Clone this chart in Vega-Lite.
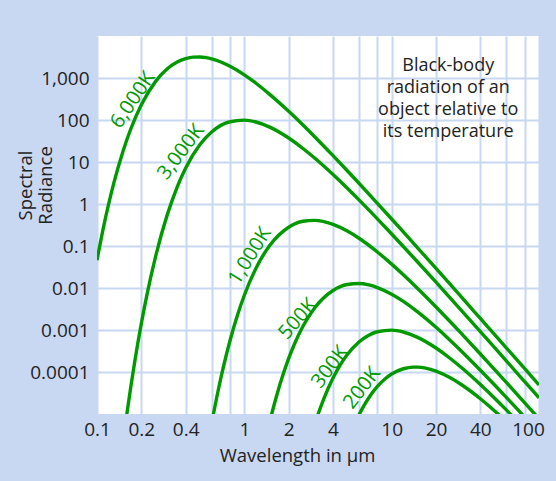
{
  "$schema": "https://vega.github.io/schema/vega-lite/v6.json",
  "autosize": {"type": "none"},
  "width": 442,
  "height": 378,
  "padding": {"left": 97, "top": 36, "right": 17, "bottom": 67},
  "background": "#c9d8f2",
  "config": {
    "view": {"fill": "white", "stroke": null},
    "font": "Open Sans",
    "axis": {
      "grid": true,
      "gridColor": "#c9d8f2",
      "gridWidth": 2,
      "gridOpacity": 1,
      "domain": false,
      "ticks": false,
      "labelFont": "Open Sans",
      "labelFontSize": 19,
      "labelColor": "#222222",
      "titleFont": "Open Sans",
      "titleFontSize": 18.5,
      "titleFontWeight": "normal",
      "titleColor": "#222222",
      "labelOverlap": false,
      "labelFlush": false
    }
  },
  "datasets": {
    "curves": [
      {"T": "6000K", "wl": 0.1, "r": 0.0459},
      {"T": "6000K", "wl": 0.11, "r": 0.252},
      {"T": "6000K", "wl": 0.12, "r": 1.002},
      {"T": "6000K", "wl": 0.13, "r": 3.13},
      {"T": "6000K", "wl": 0.15, "r": 17.87},
      {"T": "6000K", "wl": 0.17, "r": 62.75},
      {"T": "6000K", "wl": 0.2, "r": 231.2},
      {"T": "6000K", "wl": 0.25, "r": 831.8},
      {"T": "6000K", "wl": 0.3, "r": 1656},
      {"T": "6000K", "wl": 0.35, "r": 2401},
      {"T": "6000K", "wl": 0.4, "r": 2904},
      {"T": "6000K", "wl": 0.45, "r": 3146},
      {"T": "6000K", "wl": 0.5, "r": 3174},
      {"T": "6000K", "wl": 0.55, "r": 3062},
      {"T": "6000K", "wl": 0.6, "r": 2866},
      {"T": "6000K", "wl": 0.8, "r": 1909},
      {"T": "6000K", "wl": 1, "r": 1191},
      {"T": "6000K", "wl": 1.2, "r": 750.6},
      {"T": "6000K", "wl": 1.5, "r": 397.3},
      {"T": "6000K", "wl": 2, "r": 160.7},
      {"T": "6000K", "wl": 2.5, "r": 75.83},
      {"T": "6000K", "wl": 3, "r": 40.06},
      {"T": "6000K", "wl": 4, "r": 14.16},
      {"T": "6000K", "wl": 5, "r": 6.191},
      {"T": "6000K", "wl": 6, "r": 3.114},
      {"T": "6000K", "wl": 8, "r": 1.04},
      {"T": "6000K", "wl": 10, "r": 0.4395},
      {"T": "6000K", "wl": 12, "r": 0.2163},
      {"T": "6000K", "wl": 15, "r": 0.0904},
      {"T": "6000K", "wl": 20, "r": 0.02922},
      {"T": "6000K", "wl": 25, "r": 0.01212},
      {"T": "6000K", "wl": 30, "r": 0.005893},
      {"T": "6000K", "wl": 40, "r": 0.001881},
      {"T": "6000K", "wl": 50, "r": 0.0007758},
      {"T": "6000K", "wl": 60, "r": 0.0003752},
      {"T": "6000K", "wl": 80, "r": 0.0001196},
      {"T": "6000K", "wl": 100, "r": 0.00004907},

      {"T": "3000K", "wl": 0.15, "r": 0.00000204},
      {"T": "3000K", "wl": 0.16, "r": 0.00001089},
      {"T": "3000K", "wl": 0.18, "r": 0.000169},
      {"T": "3000K", "wl": 0.2, "r": 0.001436},
      {"T": "3000K", "wl": 0.22, "r": 0.00787},
      {"T": "3000K", "wl": 0.25, "r": 0.05689},
      {"T": "3000K", "wl": 0.3, "r": 0.5585},
      {"T": "3000K", "wl": 0.35, "r": 2.537},
      {"T": "3000K", "wl": 0.4, "r": 7.211},
      {"T": "3000K", "wl": 0.5, "r": 26.0},
      {"T": "3000K", "wl": 0.6, "r": 51.76},
      {"T": "3000K", "wl": 0.8, "r": 90.78},
      {"T": "3000K", "wl": 1, "r": 99.22},
      {"T": "3000K", "wl": 1.2, "r": 89.6},
      {"T": "3000K", "wl": 1.5, "r": 66.83},
      {"T": "3000K", "wl": 2, "r": 37.24},
      {"T": "3000K", "wl": 2.5, "r": 21.0},
      {"T": "3000K", "wl": 3, "r": 12.42},
      {"T": "3000K", "wl": 4, "r": 5.017},
      {"T": "3000K", "wl": 5, "r": 2.367},
      {"T": "3000K", "wl": 6, "r": 1.251},
      {"T": "3000K", "wl": 8, "r": 0.4424},
      {"T": "3000K", "wl": 10, "r": 0.1935},
      {"T": "3000K", "wl": 12, "r": 0.09739},
      {"T": "3000K", "wl": 15, "r": 0.04163},
      {"T": "3000K", "wl": 20, "r": 0.01374},
      {"T": "3000K", "wl": 25, "r": 0.005772},
      {"T": "3000K", "wl": 30, "r": 0.002828},
      {"T": "3000K", "wl": 40, "r": 0.0009127},
      {"T": "3000K", "wl": 50, "r": 0.0003784},
      {"T": "3000K", "wl": 60, "r": 0.000184},
      {"T": "3000K", "wl": 80, "r": 0.00005881},
      {"T": "3000K", "wl": 100, "r": 0.00002425},

      {"T": "1000K", "wl": 0.6, "r": 0.0000059},
      {"T": "1000K", "wl": 0.62, "r": 0.00001086},
      {"T": "1000K", "wl": 0.65, "r": 0.00002503},
      {"T": "1000K", "wl": 0.7, "r": 0.0000839},
      {"T": "1000K", "wl": 0.75, "r": 0.0002337},
      {"T": "1000K", "wl": 0.8, "r": 0.0005617},
      {"T": "1000K", "wl": 0.9, "r": 0.0023},
      {"T": "1000K", "wl": 1, "r": 0.006719},
      {"T": "1000K", "wl": 1.2, "r": 0.02972},
      {"T": "1000K", "wl": 1.5, "r": 0.1071},
      {"T": "1000K", "wl": 2, "r": 0.2797},
      {"T": "1000K", "wl": 2.5, "r": 0.3877},
      {"T": "1000K", "wl": 3, "r": 0.4085},
      {"T": "1000K", "wl": 4, "r": 0.3276},
      {"T": "1000K", "wl": 5, "r": 0.2272},
      {"T": "1000K", "wl": 6, "r": 0.1531},
      {"T": "1000K", "wl": 8, "r": 0.07209},
      {"T": "1000K", "wl": 10, "r": 0.03703},
      {"T": "1000K", "wl": 12, "r": 0.02065},
      {"T": "1000K", "wl": 15, "r": 0.009743},
      {"T": "1000K", "wl": 20, "r": 0.003535},
      {"T": "1000K", "wl": 25, "r": 0.001568},
      {"T": "1000K", "wl": 30, "r": 0.0007965},
      {"T": "1000K", "wl": 40, "r": 0.0002685},
      {"T": "1000K", "wl": 50, "r": 0.0001143},
      {"T": "1000K", "wl": 60, "r": 0.00005647},
      {"T": "1000K", "wl": 80, "r": 0.00001844},
      {"T": "1000K", "wl": 100, "r": 0.0000077},

      {"T": "500K", "wl": 1.4, "r": 0.00000262},
      {"T": "500K", "wl": 1.5, "r": 0.00000731},
      {"T": "500K", "wl": 1.6, "r": 0.00001755},
      {"T": "500K", "wl": 1.7, "r": 0.00003736},
      {"T": "500K", "wl": 1.8, "r": 0.0000718},
      {"T": "500K", "wl": 2, "r": 0.00021},
      {"T": "500K", "wl": 2.2, "r": 0.0004824},
      {"T": "500K", "wl": 2.5, "r": 0.001224},
      {"T": "500K", "wl": 3, "r": 0.003346},
      {"T": "500K", "wl": 4, "r": 0.008737},
      {"T": "500K", "wl": 5, "r": 0.0121},
      {"T": "500K", "wl": 6, "r": 0.01275},
      {"T": "500K", "wl": 7, "r": 0.01181},
      {"T": "500K", "wl": 8, "r": 0.01024},
      {"T": "500K", "wl": 10, "r": 0.0071},
      {"T": "500K", "wl": 12, "r": 0.004785},
      {"T": "500K", "wl": 15, "r": 0.002699},
      {"T": "500K", "wl": 20, "r": 0.001158},
      {"T": "500K", "wl": 25, "r": 0.0005645},
      {"T": "500K", "wl": 30, "r": 0.0003046},
      {"T": "500K", "wl": 40, "r": 0.0001104},
      {"T": "500K", "wl": 50, "r": 0.00004897},
      {"T": "500K", "wl": 60, "r": 0.00002488},
      {"T": "500K", "wl": 70, "r": 0.00001393},
      {"T": "500K", "wl": 80, "r": 0.00000839},

      {"T": "300K", "wl": 3, "r": 0.00000558},
      {"T": "300K", "wl": 3.2, "r": 0.00001099},
      {"T": "300K", "wl": 3.5, "r": 0.00002535},
      {"T": "300K", "wl": 4, "r": 0.00007218},
      {"T": "300K", "wl": 4.5, "r": 0.0001518},
      {"T": "300K", "wl": 5, "r": 0.0002601},
      {"T": "300K", "wl": 6, "r": 0.0005176},
      {"T": "300K", "wl": 7, "r": 0.0007505},
      {"T": "300K", "wl": 8, "r": 0.0009077},
      {"T": "300K", "wl": 10, "r": 0.0009922},
      {"T": "300K", "wl": 12, "r": 0.0008959},
      {"T": "300K", "wl": 15, "r": 0.0006683},
      {"T": "300K", "wl": 20, "r": 0.0003724},
      {"T": "300K", "wl": 25, "r": 0.00021},
      {"T": "300K", "wl": 30, "r": 0.0001242},
      {"T": "300K", "wl": 40, "r": 0.00005017},
      {"T": "300K", "wl": 50, "r": 0.00002367},
      {"T": "300K", "wl": 60, "r": 0.00001251},
      {"T": "300K", "wl": 70, "r": 0.0000072},

      {"T": "200K", "wl": 5.5, "r": 0.00000493},
      {"T": "200K", "wl": 6, "r": 0.00000951},
      {"T": "200K", "wl": 6.5, "r": 0.00001602},
      {"T": "200K", "wl": 7, "r": 0.00002437},
      {"T": "200K", "wl": 8, "r": 0.00004519},
      {"T": "200K", "wl": 9, "r": 0.00006823},
      {"T": "200K", "wl": 10, "r": 0.00008951},
      {"T": "200K", "wl": 12, "r": 0.0001195},
      {"T": "200K", "wl": 14, "r": 0.0001307},
      {"T": "200K", "wl": 15, "r": 0.0001306},
      {"T": "200K", "wl": 17, "r": 0.0001237},
      {"T": "200K", "wl": 20, "r": 0.0001049},
      {"T": "200K", "wl": 25, "r": 0.00007275},
      {"T": "200K", "wl": 30, "r": 0.00004904},
      {"T": "200K", "wl": 40, "r": 0.00002306},
      {"T": "200K", "wl": 50, "r": 0.00001185},
      {"T": "200K", "wl": 60, "r": 0.00000661}
    ],
    "labels": [
      {"label": "6,000K", "wl": 0.1755, "r": 299},
      {"label": "3,000K", "wl": 0.372, "r": 17.3},
      {"label": "1,000K", "wl": 1.093, "r": 0.0578},
      {"label": "500K", "wl": 2.315, "r": 0.00183},
      {"label": "300K", "wl": 3.82, "r": 0.0001315},
      {"label": "200K", "wl": 6.3, "r": 0.0000416}
    ],
    "note": [
      {"text": "Black-body\nradiation of an\nobject relative to\nits temperature", "wl": 24.2, "r": 1500}
    ]
  },
  "encoding": {
    "x": {
      "field": "wl",
      "type": "quantitative",
      "scale": {"type": "log", "domain": [0.1, 100], "nice": false},
      "axis": {
        "values": [0.1, 0.2, 0.4, 0.6, 0.8, 1, 2, 4, 6, 8, 10, 20, 40, 60, 80, 100],
        "labelExpr": "indexof([0.6, 0.8, 6, 8, 60, 80], datum.value) >= 0 ? '' : format(datum.value, '~g')",
        "labelPadding": 6,
        "labelOffset": {"condition": {"test": "datum.value == 100", "value": -11}, "value": 0},
        "title": "Wavelength in µm",
        "titleX": 200,
        "titleY": 47,
        "titleAlign": "center",
        "titleBaseline": "alphabetic"
      }
    },
    "y": {
      "field": "r",
      "type": "quantitative",
      "scale": {"type": "log", "domain": [0.00001, 10000], "nice": false},
      "axis": {
        "values": [0.0001, 0.001, 0.01, 0.1, 1, 10, 100, 1000],
        "format": ",~g",
        "labelPadding": 8,
        "title": ["Spectral", "Radiance"],
        "titleX": -72,
        "titleY": 149,
        "titleAlign": "center",
        "titleBaseline": "middle",
        "titleLineHeight": 20
      }
    }
  },
  "layer": [
    {
      "data": {"name": "curves"},
      "mark": {"type": "line", "color": "#009a00", "strokeWidth": 3.4, "clip": true, "interpolate": "monotone"},
      "encoding": {"detail": {"field": "T", "type": "nominal"}}
    },
    {
      "data": {"name": "labels"},
      "transform": [{"filter": "datum.label == '6,000K'"}],
      "mark": {"type": "text", "color": "#009a00", "fontSize": 20, "font": "Open Sans", "angle": -56, "align": "center", "baseline": "middle"},
      "encoding": {"text": {"field": "label"}}
    },
    {
      "data": {"name": "labels"},
      "transform": [{"filter": "datum.label == '3,000K' || datum.label == '300K'"}],
      "mark": {"type": "text", "color": "#009a00", "fontSize": 20, "font": "Open Sans", "angle": -53, "align": "center", "baseline": "middle"},
      "encoding": {"text": {"field": "label"}}
    },
    {
      "data": {"name": "labels"},
      "transform": [{"filter": "datum.label == '1,000K'"}],
      "mark": {"type": "text", "color": "#009a00", "fontSize": 20, "font": "Open Sans", "angle": -58, "align": "center", "baseline": "middle"},
      "encoding": {"text": {"field": "label"}}
    },
    {
      "data": {"name": "labels"},
      "transform": [{"filter": "datum.label == '500K'"}],
      "mark": {"type": "text", "color": "#009a00", "fontSize": 20, "font": "Open Sans", "angle": -49, "align": "center", "baseline": "middle"},
      "encoding": {"text": {"field": "label"}}
    },
    {
      "data": {"name": "labels"},
      "transform": [{"filter": "datum.label == '200K'"}],
      "mark": {"type": "text", "color": "#009a00", "fontSize": 20, "font": "Open Sans", "angle": -52, "align": "center", "baseline": "middle"},
      "encoding": {"text": {"field": "label"}}
    },
    {
      "data": {"name": "note"},
      "mark": {"type": "text", "color": "#222222", "fontSize": 18, "font": "Open Sans", "align": "center", "baseline": "alphabetic", "lineBreak": "\n", "lineHeight": 22},
      "encoding": {"text": {"field": "text"}}
    }
  ]
}
